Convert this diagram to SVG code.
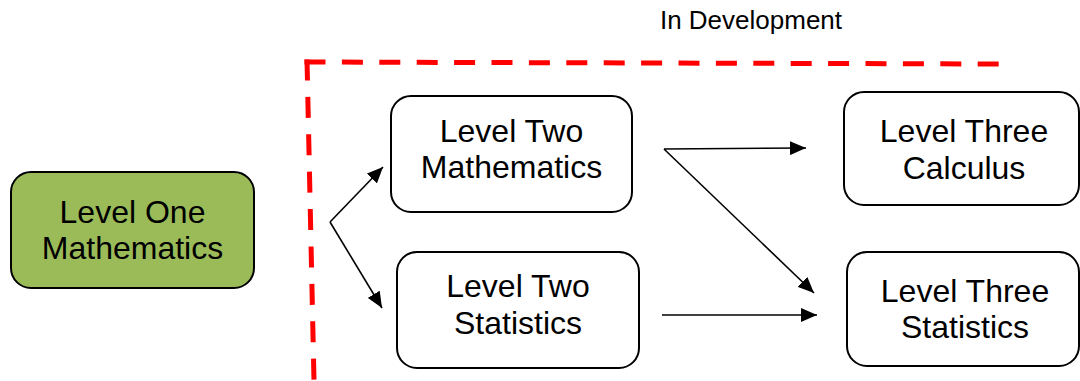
<svg xmlns="http://www.w3.org/2000/svg" width="1080" height="381" viewBox="0 0 1080 381">
<style>
  .box { fill: #ffffff; stroke: #000000; stroke-width: 2; }
  .green { fill: #9bbb59; stroke: #000000; stroke-width: 2; }
  .lbl { font-family: "Liberation Sans", Arial, sans-serif; font-size: 32px; fill: #000000; text-anchor: middle; }
  .title { font-family: "Liberation Sans", Arial, sans-serif; font-size: 26px; fill: #000000; text-anchor: middle; }
  .edge { fill: none; stroke: #000000; stroke-width: 1.6; marker-end: url(#arr); }
  .dash { fill: none; stroke: #ff0000; stroke-width: 5; stroke-dasharray: 21 16.4; }
</style>
<defs>
  <marker id="arr" viewBox="0 0 16 14" refX="16" refY="7" markerWidth="16" markerHeight="14" markerUnits="userSpaceOnUse" orient="auto">
    <path d="M0,0 L16,7 L0,14 Z" fill="#000000"/>
  </marker>
</defs>
<g id="boundary">
  <path class="dash" d="M304.5,62 L1000,64"/>
  <path class="dash" d="M307,59.5 L314,381"/>
  <text class="title" x="751" y="29">In Development</text>
</g>
<g id="level-one-math">
  <rect class="green" x="11" y="172" width="243" height="116" rx="20" ry="20"/>
  <text class="lbl" x="132.5" y="223">Level One</text>
  <text class="lbl" x="132.5" y="259">Mathematics</text>
</g>
<g id="level-two-math">
  <rect class="box" x="391" y="96" width="241" height="116" rx="20" ry="20"/>
  <text class="lbl" x="511.5" y="142">Level Two</text>
  <text class="lbl" x="511.5" y="178">Mathematics</text>
</g>
<g id="level-two-stats">
  <rect class="box" x="397" y="252" width="242" height="116" rx="20" ry="20"/>
  <text class="lbl" x="518" y="297">Level Two</text>
  <text class="lbl" x="518" y="334">Statistics</text>
</g>
<g id="level-three-calc">
  <rect class="box" x="844" y="92" width="235" height="113" rx="20" ry="20"/>
  <text class="lbl" x="964" y="142">Level Three</text>
  <text class="lbl" x="964" y="179">Calculus</text>
</g>
<g id="level-three-stats">
  <rect class="box" x="847" y="252" width="232" height="114" rx="20" ry="20"/>
  <text class="lbl" x="965" y="302">Level Three</text>
  <text class="lbl" x="965" y="338">Statistics</text>
</g>
<g id="connectors">
  <path class="edge" d="M330,222 L383,167"/>
  <path class="edge" d="M330,222 L382,308"/>
  <path class="edge" d="M664,149 L806,148"/>
  <path class="edge" d="M664,149 L814,293"/>
  <path class="edge" d="M662,315 L817,315"/>
</g>
</svg>
